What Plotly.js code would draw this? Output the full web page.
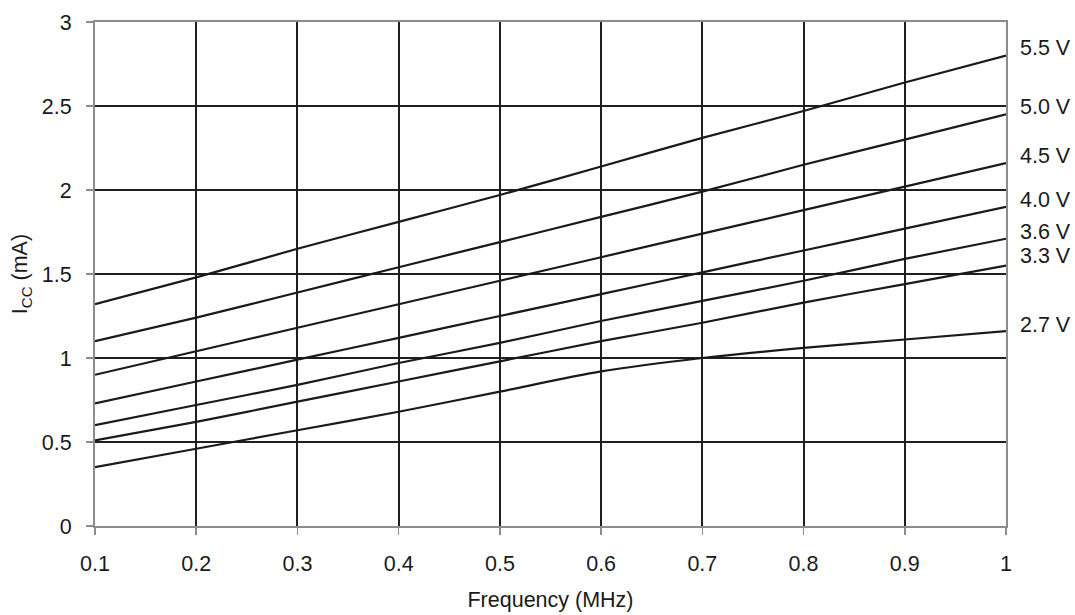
<!DOCTYPE html>
<html>
<head>
<meta charset="utf-8">
<script src="https://cdn.plot.ly/plotly-3.0.1.min.js"></script>
<style>html,body{margin:0;padding:0;background:#fff;}#chart{width:1075px;height:615px;}</style>
</head>
<body>
<div id="chart"></div>
<script>
const frequency = [0.1, 0.2, 0.3, 0.4, 0.5, 0.6, 0.7, 0.8, 0.9, 1.0];
const icc55 = [1.32, 1.48, 1.65, 1.81, 1.97, 2.14, 2.31, 2.47, 2.64, 2.80];
const icc50 = [1.10, 1.24, 1.39, 1.54, 1.69, 1.84, 1.99, 2.15, 2.30, 2.45];
const icc45 = [0.90, 1.04, 1.18, 1.32, 1.46, 1.60, 1.74, 1.88, 2.02, 2.16];
const icc40 = [0.73, 0.86, 0.99, 1.12, 1.25, 1.38, 1.51, 1.64, 1.77, 1.90];
const icc36 = [0.60, 0.72, 0.84, 0.97, 1.09, 1.22, 1.34, 1.46, 1.59, 1.71];
const icc33 = [0.51, 0.62, 0.74, 0.86, 0.98, 1.10, 1.21, 1.33, 1.44, 1.55];
const icc27 = [0.35, 0.46, 0.57, 0.68, 0.80, 0.92, 1.00, 1.06, 1.11, 1.16];
const seriesNames = ["5.5 V", "5.0 V", "4.5 V", "4.0 V", "3.6 V", "3.3 V", "2.7 V"];
const labelY = [2.845, 2.495, 2.20, 1.94, 1.75, 1.61, 1.195];
const yTicks = [0, 0.5, 1, 1.5, 2, 2.5, 3];
const yTickText = ["0", "0.5", "1", "1.5", "2", "2.5", "3"];
const xTicks = [0.1, 0.2, 0.3, 0.4, 0.5, 0.6, 0.7, 0.8, 0.9, 1];
const xTickText = ["0.1", "0.2", "0.3", "0.4", "0.5", "0.6", "0.7", "0.8", "0.9", "1"];

const allSeries = [icc55, icc50, icc45, icc40, icc36, icc33, icc27];
const traces = allSeries.map((ys, i) => ({
  x: frequency, y: ys, type: "scatter", mode: "lines", name: seriesNames[i],
  line: {color: "#1a1a1a", width: 2.2, shape: "spline", smoothing: 0.8},
  hoverinfo: "x+y+name"
}));

const fontBase = {family: "Liberation Sans, Arial, sans-serif", size: 21.5, color: "#1a1a1a"};

const annotations = seriesNames.map((n, i) => ({
  x: 1, xref: "paper", y: labelY[i], yref: "y", text: n, showarrow: false,
  xanchor: "left", yanchor: "middle", xshift: 12,
  font: fontBase
}));

const layout = {
  width: 1075, height: 615,
  margin: {l: 95, r: 69, t: 22, b: 89},
  paper_bgcolor: "#fff", plot_bgcolor: "#fff",
  showlegend: false,
  font: fontBase,
  xaxis: {
    range: [0.1, 1], tickvals: xTicks, ticktext: xTickText,
    showgrid: true, gridcolor: "#1f1f1f", gridwidth: 2,
    showline: true, linecolor: "#8c8c8c", linewidth: 2, mirror: true,
    ticks: "outside", ticklen: 7, tickcolor: "#8c8c8c", tickwidth: 1.5,
    ticklabelstandoff: 10,
    zeroline: false, tickfont: fontBase,
    title: {text: "Frequency (MHz)", font: fontBase, standoff: 17}
  },
  yaxis: {
    range: [0, 3], tickvals: yTicks, ticktext: yTickText,
    showgrid: true, gridcolor: "#1f1f1f", gridwidth: 2,
    showline: true, linecolor: "#8c8c8c", linewidth: 2, mirror: true,
    ticks: "outside", ticklen: 7, tickcolor: "#8c8c8c", tickwidth: 1.5,
    ticklabelstandoff: 10,
    zeroline: false, tickfont: fontBase,
    title: {text: "I<sub>CC</sub> (mA)", font: fontBase, standoff: 8}
  },
  annotations: annotations
};

Plotly.newPlot("chart", traces, layout, {displayModeBar: false, staticPlot: true});
</script>
</body>
</html>
